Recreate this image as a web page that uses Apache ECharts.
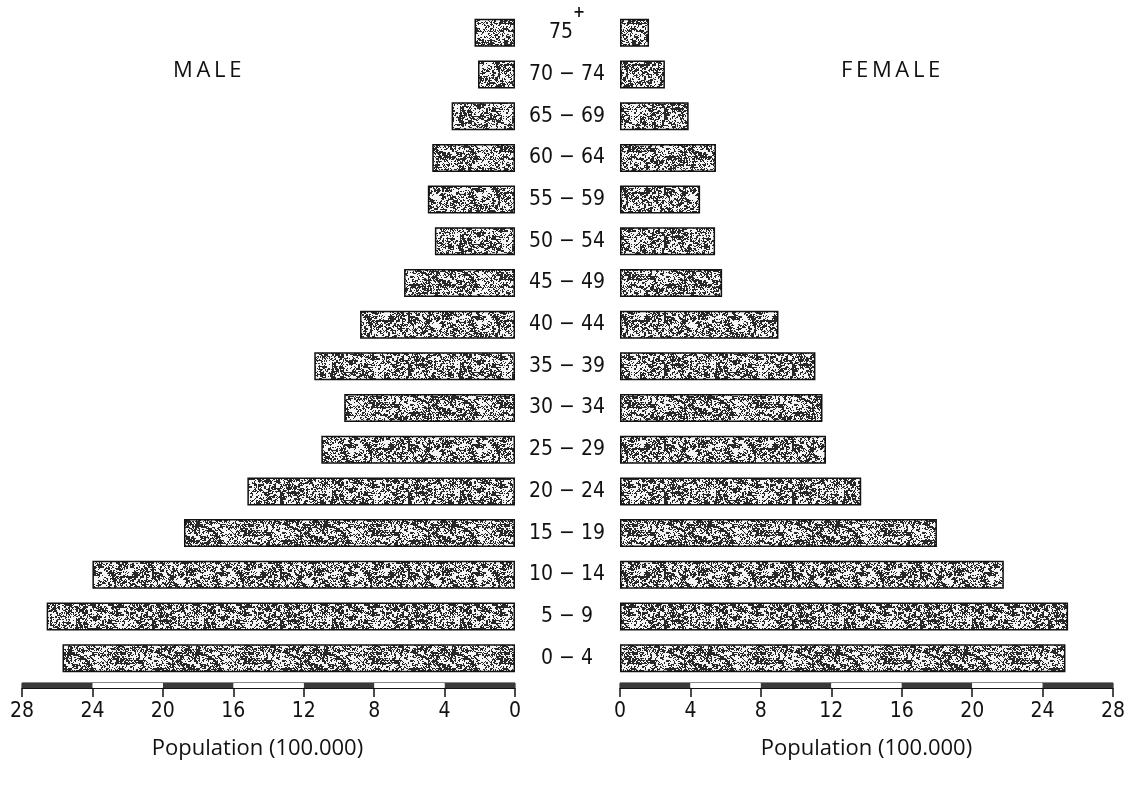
<!DOCTYPE html>
<html>
<head>
<meta charset="utf-8">
<script src="https://cdn.jsdelivr.net/npm/echarts@6/dist/echarts.min.js"></script>
<style>
html,body{margin:0;padding:0;background:#fff;}
#chart{width:1133px;height:794px;}
</style>
</head>
<body>
<div id="chart"></div>
<script>
// ---- data ----
const categories = ['0 \u2212 4','5 \u2212 9','10 \u2212 14','15 \u2212 19','20 \u2212 24','25 \u2212 29','30 \u2212 34','35 \u2212 39','40 \u2212 44','45 \u2212 49','50 \u2212 54','55 \u2212 59','60 \u2212 64','65 \u2212 69','70 \u2212 74','75+'];
const male   = [25.7, 26.6, 24.0, 18.8, 15.2, 11.0, 9.7, 11.4, 8.8, 6.3, 4.55, 4.95, 4.7, 3.6, 2.1, 2.3];
const female = [25.3, 25.45, 21.8, 18.0, 13.7, 11.7, 11.5, 11.1, 9.0, 5.8, 5.4, 4.55, 5.45, 3.9, 2.55, 1.65];
const axisMin = 0, axisMax = 28, axisStep = 4;
const axisName = 'Population (100.000)';
const leftTitle = 'MALE', rightTitle = 'FEMALE';

// ---- stipple texture (deterministic hash, style only) ----
function hash(x, y) {
  let n = (Math.imul(x, 374761393) + Math.imul(y, 668265263)) | 0;
  n = Math.imul(n ^ (n >>> 13), 1274126177);
  n = n ^ (n >>> 16);
  return ((n >>> 0) % 1000) / 1000;
}
function makeTexture() {
  const S = 128;
  const c = document.createElement('canvas');
  c.width = S; c.height = S;
  const ctx = c.getContext('2d');
  const img = ctx.createImageData(S, S);
  for (let y = 0; y < S; y++) {
    for (let x = 0; x < S; x++) {
      const v = 0.4 * hash(x, y) + 0.35 * hash((x >> 1) + 7, (y >> 1) + 3) + 0.25 * hash((x >> 2) + 91, (y >> 2) + 37);
      const dark = v < 0.5;
      const g = dark ? 40 : 245;
      const i = (y * S + x) * 4;
      img.data[i] = g; img.data[i + 1] = g; img.data[i + 2] = g; img.data[i + 3] = 255;
    }
  }
  ctx.putImageData(img, 0, 0);
  return c;
}
const texture = makeTexture();

const numFont = '"DejaVu Sans Condensed", "DejaVu Sans", sans-serif';
const textFont = '"Open Sans", "Lato", sans-serif';
const spaced = s => s.split('').join('\u2009');

const chart = echarts.init(document.getElementById('chart'), null, {renderer: 'canvas'});

function scaleAxis(gridIndex, inverse, namePad) {
  return {
    gridIndex: gridIndex, type: 'value', min: axisMin, max: axisMax, interval: axisStep, inverse: inverse,
    axisLine: {show: true, onZero: false, lineStyle: {color: '#111', width: 1}},
    axisTick: {show: true, length: 9, lineStyle: {color: '#111', width: 1.5}},
    axisLabel: {show: true, margin: 13, color: '#111', fontSize: 21, fontFamily: numFont},
    splitLine: {show: false},
    splitArea: {show: true, areaStyle: {color: ['#3a3a3a', '#ffffff']}},
    name: axisName, nameLocation: 'middle', nameGap: 50,
    nameTextStyle: {color: '#111', fontSize: 22, fontFamily: textFont, padding: namePad}
  };
}

const option = {
  animation: false,
  backgroundColor: '#ffffff',
  graphic: [
    {type: 'text', left: 173, top: 60, style: {text: spaced(leftTitle), font: '22px ' + textFont, fill: '#111'}},
    {type: 'text', left: 841, top: 60, style: {text: spaced(rightTitle), font: '22px ' + textFont, fill: '#111'}}
  ],
  grid: [
    {left: 22, top: 12, width: 493, height: 667},
    {left: 620, top: 12, width: 493, height: 667},
    {left: 22, top: 683, width: 493, height: 5, show: true, borderColor: '#111', borderWidth: 1},
    {left: 620, top: 683, width: 493, height: 5, show: true, borderColor: '#111', borderWidth: 1}
  ],
  xAxis: [
    {gridIndex: 0, type: 'value', min: axisMin, max: axisMax, interval: axisStep, inverse: true, show: false},
    {gridIndex: 1, type: 'value', min: axisMin, max: axisMax, interval: axisStep, show: false},
    scaleAxis(2, true, [0, 22, 0, 0]),
    scaleAxis(3, false, [0, 0, 0, 0])
  ],
  yAxis: [
    {gridIndex: 0, type: 'category', data: categories, show: false},
    {gridIndex: 1, type: 'category', data: categories,
      axisLine: {show: false}, axisTick: {show: false},
      axisLabel: {
        show: true, interval: 0, margin: 53, align: 'center',
        formatter: function (v) {
          if (v.indexOf('+') >= 0) return '{n|' + v.replace('+', '') + '}{s|+}';
          return '{n|' + v + '}';
        },
        rich: {
          n: {fontSize: 21, fontFamily: numFont, color: '#111', verticalAlign: 'middle'},
          s: {fontSize: 16, fontFamily: numFont, color: '#111', fontWeight: 'bold', verticalAlign: 'middle', padding: [0, 0, 40, 0]}
        }
      }
    },
    {gridIndex: 2, type: 'value', show: false},
    {gridIndex: 3, type: 'value', show: false}
  ],
  series: [
    {type: 'bar', xAxisIndex: 0, yAxisIndex: 0, data: male, barWidth: 28,
      itemStyle: {color: {image: texture, repeat: 'repeat'}, borderColor: '#111', borderWidth: 1.5}},
    {type: 'bar', xAxisIndex: 1, yAxisIndex: 1, data: female, barWidth: 28,
      itemStyle: {color: {image: texture, repeat: 'repeat'}, borderColor: '#111', borderWidth: 1.5}}
  ]
};
chart.setOption(option);
</script>
</body>
</html>
